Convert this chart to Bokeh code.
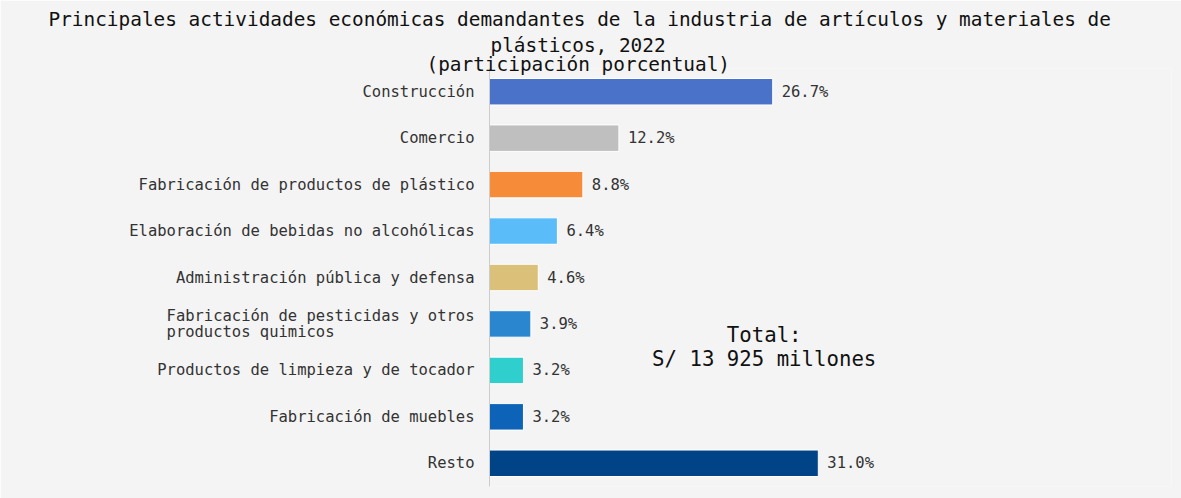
from bokeh.plotting import figure
from bokeh.models import Range1d, FactorRange, ColumnDataSource, Title
from bokeh.core.properties import value
from bokeh.embed import file_html
from bokeh.resources import INLINE

categories = [
    "Construcción",
    "Comercio",
    "Fabricación de productos de plástico",
    "Elaboración de bebidas no alcohólicas",
    "Administración pública y defensa",
    "Fabricación de pesticidas y otros\nproductos quimicos\u00a0\u00a0\u00a0\u00a0\u00a0\u00a0\u00a0\u00a0\u00a0\u00a0\u00a0\u00a0\u00a0\u00a0\u00a0",
    "Productos de limpieza y de tocador",
    "Fabricación de muebles",
    "Resto",
]
values = [26.7, 12.2, 8.8, 6.4, 4.6, 3.9, 3.2, 3.2, 31.0]
value_labels = ["26.7%", "12.2%", "8.8%", "6.4%", "4.6%", "3.9%", "3.2%", "3.2%", "31.0%"]
colors = ["#4a72c8", "#bfbfbf", "#f68b3a", "#5bbcfa", "#dbc07a",
          "#2a86cf", "#2ecfcc", "#0d63b8", "#004386"]
title_lines = [
    "Principales actividades económicas demandantes de la industria de artículos y materiales de",
    "plásticos, 2022",
    "(participación porcentual)",
]
title_offsets = [-441, 1, -63]
title_standoffs = [0, 2, -14.5]
total_text = "Total:\nS/ 13 925 millones"

FONT = "DejaVu Sans Mono"
BG = "#f4f4f4"

src = ColumnDataSource(dict(cat=categories, val=values, lab=value_labels, col=colors))

p = figure(
    width=1181, height=498,
    y_range=FactorRange(factors=list(reversed(categories))),
    x_range=Range1d(0, 64.3),
    output_backend="svg", toolbar_location=None,
    min_border_left=489, min_border_right=10,
    min_border_top=68, min_border_bottom=12,
)
p.title = None
p.background_fill_color = BG
p.border_fill_color = BG
p.outline_line_color = None
p.xgrid.visible = False
p.ygrid.visible = False
p.xaxis.visible = False

yax = p.yaxis[0]
yax.axis_line_color = "#cccccc"
yax.major_tick_line_color = None
yax.minor_tick_line_color = None
yax.major_label_text_font = FONT
yax.major_label_text_font_size = "15.5px"
yax.major_label_text_color = "#333333"
yax.major_label_text_line_height = 0.9
yax.major_label_standoff = 9

p.hbar(y="cat", right="val", left=0, height=0.57, fill_color="col",
       line_color="white", line_width=1, source=src)

p.text(x="val", y="cat", text="lab", source=src, x_offset=9,
       text_font=value(FONT), text_font_size="15.5px", text_color="#333333",
       text_baseline="middle", text_align="left")

p.text(x=[25.9], y=[categories[5]], text=[total_text], y_offset=23,
       text_font=value(FONT), text_font_size="20.7px", text_color="#111111",
       text_baseline="middle", text_align="center", text_line_height=1.0)

for line, off, so in reversed(list(zip(title_lines, title_offsets, title_standoffs))):
    p.add_layout(Title(text=line, align="left", offset=off, standoff=so,
                       text_font=FONT, text_font_size="19.4px",
                       text_font_style="normal", text_color="#111111"), "above")
# thin spacer above the first title line
p.add_layout(Title(text="\u00a0", standoff=0, text_font_size="3px"), "above")

open("out.html", "w").write(file_html(p, INLINE))
